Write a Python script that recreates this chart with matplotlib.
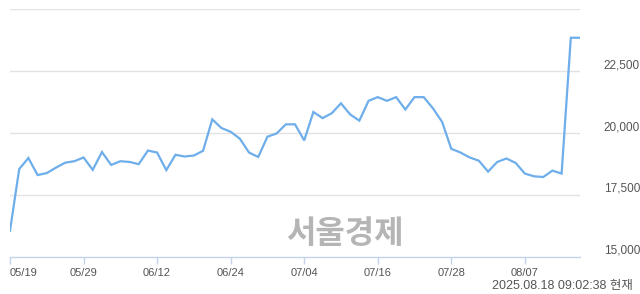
import matplotlib.pyplot as plt

# 거래일 (2025.05.19 ~ 2025.08.18)
dates = [
    "05/19", "05/20", "05/21", "05/22", "05/23", "05/26", "05/27", "05/28", "05/29", "05/30",
    "06/02", "06/04", "06/05", "06/09", "06/10", "06/11", "06/12", "06/13", "06/16", "06/17",
    "06/18", "06/19", "06/20", "06/23", "06/24", "06/25", "06/26", "06/27", "06/30", "07/01",
    "07/02", "07/03", "07/04", "07/07", "07/08", "07/09", "07/10", "07/11", "07/14", "07/15",
    "07/16", "07/17", "07/18", "07/21", "07/22", "07/23", "07/24", "07/25", "07/28", "07/29",
    "07/30", "07/31", "08/01", "08/04", "08/05", "08/06", "08/07", "08/08", "08/11", "08/12",
    "08/13", "08/14", "08/18",
]
prices = [
    16050, 18540, 18990, 18300, 18380, 18600, 18800, 18860, 19010, 18510,
    19230, 18710, 18860, 18830, 18740, 19290, 19210, 18500, 19120, 19050,
    19090, 19280, 20550, 20200, 20050, 19770, 19210, 19030, 19850, 19980,
    20350, 20350, 19700, 20850, 20600, 20800, 21200, 20750, 20500, 21300,
    21450, 21300, 21450, 20950, 21450, 21450, 21000, 20450, 19360, 19210,
    19010, 18880, 18440, 18830, 18970, 18790, 18360, 18250, 18220, 18480,
    18360, 23850, 23850,
]
tick_dates = ["05/19", "05/29", "06/12", "06/24", "07/04", "07/16", "07/28", "08/07"]
y_ticks = [15000, 17500, 20000, 22500, 25000]
y_labels = ["15,000", "17,500", "20,000", "22,500", ""]
stamp = "2025.08.18 09:02:38 현재"
watermark = "서울경제"

fonts = ["Liberation Sans", "Noto Sans CJK KR", "DejaVu Sans"]
plt.rcParams["font.family"] = fonts

fig = plt.figure(figsize=(6.4, 2.94), dpi=100)
ax = fig.add_axes([10 / 640, 37.3 / 294, 570 / 640, 247.4 / 294])

x = list(range(len(prices)))
ax.plot(x, prices, color="#6eaeea", linewidth=1.6, solid_joinstyle="miter", zorder=3)

ax.set_xlim(0, len(prices) - 1)
ax.set_ylim(15000, 25000)

# 가로 격자
for v in y_ticks[1:]:
    ax.axhline(v, color="#e2e2e2", linewidth=1, zorder=1)

for s in ["top", "right", "left"]:
    ax.spines[s].set_visible(False)
ax.spines["bottom"].set_color("#c5d3ea")
ax.spines["bottom"].set_linewidth(1)

pos = [dates.index(d) for d in tick_dates]
ax.set_xticks(pos)
ax.set_xticklabels(tick_dates, fontsize=8, color="#555555")
ax.tick_params(axis="x", length=5, width=1, color="#c5d3ea", pad=3)
ax.get_xticklabels()[0].set_horizontalalignment("left")

ax.yaxis.tick_right()
ax.set_yticks(y_ticks)
ax.set_yticklabels(y_labels, fontsize=8.5, color="#555555")
ax.tick_params(axis="y", length=0, pad=17)
for lb in ax.get_yticklabels():
    lb.set_verticalalignment("bottom")

ax.text(345 / 640, 1 - 234 / 294, watermark, transform=fig.transFigure,
        fontsize=23, fontweight="bold", color="#b5b5b5", ha="center", va="center",
        family=["Noto Sans CJK KR"], zorder=2)

fig.text(633 / 640, 1 - 286 / 294, stamp, fontsize=9, color="#555555",
         ha="right", va="center", family=fonts)

plt.savefig("out.png", dpi=100)
